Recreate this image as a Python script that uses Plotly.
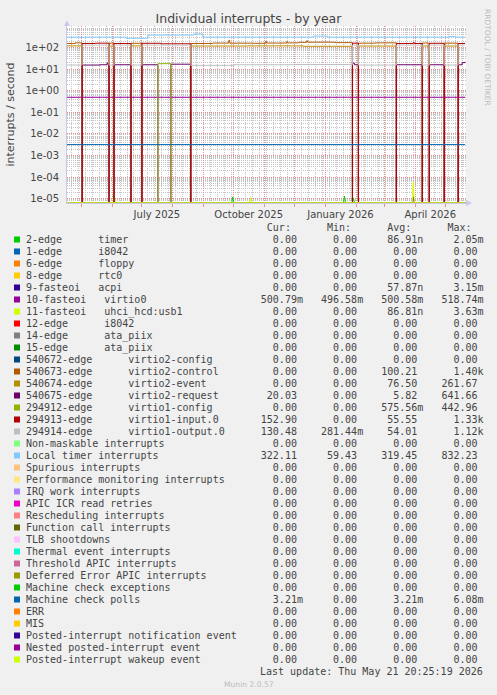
import pandas as pd
import plotly.graph_objects as go

# ---------------- data ----------------
START = "2025-04-16 20:25"
END = "2026-05-21 20:25"

legend_labels = [
    "2-edge      timer", "1-edge      i8042", "6-edge      floppy", "8-edge      rtc0",
    "9-fasteoi   acpi", "10-fasteoi   virtio0", "11-fasteoi   uhci_hcd:usb1",
    "12-edge      i8042", "14-edge      ata_piix", "15-edge      ata_piix",
    "540672-edge      virtio2-config", "540673-edge      virtio2-control",
    "540674-edge      virtio2-event", "540675-edge      virtio2-request",
    "294912-edge      virtio1-config", "294913-edge      virtio1-input.0",
    "294914-edge      virtio1-output.0", "Non-maskable interrupts",
    "Local timer interrupts", "Spurious interrupts",
    "Performance monitoring interrupts", "IRQ work interrupts",
    "APIC ICR read retries", "Rescheduling interrupts", "Function call interrupts",
    "TLB shootdowns", "Thermal event interrupts", "Threshold APIC interrupts",
    "Deferred Error APIC interrupts", "Machine check exceptions",
    "Machine check polls", "ERR", "MIS", "Posted-interrupt notification event",
    "Nested posted-interrupt event", "Posted-interrupt wakeup event",
]

series_colors = [
    "#00CC00", "#0066B3", "#FF8000", "#FFCC00", "#330099", "#990099", "#CCFF00",
    "#FF0000", "#808080", "#008F00", "#00487D", "#B35A00", "#B38F00", "#6B006B",
    "#8FB300", "#B30000", "#BEBEBE", "#80FF80", "#80C9FF", "#FFC080", "#FFE680",
    "#AA80FF", "#EE00CC", "#FF8080", "#666600", "#FFBFFF", "#00FFCC", "#CC6699",
    "#999900", "#00CC00", "#0066B3", "#FF8000", "#FFCC00", "#330099", "#990099",
    "#CCFF00",
]

cur_vals = ["0.00", "0.00", "0.00", "0.00", "0.00", "500.79m", "0.00", "0.00", "0.00", "0.00",
            "0.00", "0.00", "0.00", "20.03", "0.00", "152.90", "130.48", "0.00", "322.11",
            "0.00", "0.00", "0.00", "0.00", "0.00", "0.00", "0.00", "0.00", "0.00", "0.00",
            "0.00", "3.21m", "0.00", "0.00", "0.00", "0.00", "0.00"]
min_vals = ["0.00", "0.00", "0.00", "0.00", "0.00", "496.58m", "0.00", "0.00", "0.00", "0.00",
            "0.00", "0.00", "0.00", "0.00", "0.00", "0.00", "281.44m", "0.00", "59.43",
            "0.00", "0.00", "0.00", "0.00", "0.00", "0.00", "0.00", "0.00", "0.00", "0.00",
            "0.00", "0.00", "0.00", "0.00", "0.00", "0.00", "0.00"]
avg_vals = ["86.91n", "0.00", "0.00", "0.00", "57.87n", "500.58m", "86.81n", "0.00", "0.00",
            "0.00", "0.00", "100.21", "76.50", "5.82", "575.56m", "55.55", "54.01", "0.00",
            "319.45", "0.00", "0.00", "0.00", "0.00", "0.00", "0.00", "0.00", "0.00", "0.00",
            "0.00", "0.00", "3.21m", "0.00", "0.00", "0.00", "0.00", "0.00"]
max_vals = ["2.05m", "0.00", "0.00", "0.00", "3.15m", "518.74m", "3.63m", "0.00", "0.00",
            "0.00", "0.00", "1.40k", "261.67", "641.66", "442.96", "1.33k", "1.12k", "0.00",
            "832.23", "0.00", "0.00", "0.00", "0.00", "0.00", "0.00", "0.00", "0.00", "0.00",
            "0.00", "0.00", "6.08m", "0.00", "0.00", "0.00", "0.00", "0.00"]

# time series (daily consolidated, interrupts / second)
timer_x = ["2025-04-16", "2025-09-29", "2025-09-30", "2025-10-01", "2026-01-19", "2026-01-20",
           "2026-01-21", "2026-01-28", "2026-01-29", "2026-01-30", "2026-05-21"]
timer_y = [0, 0, 1.2e-5, 0, 0, 1.3e-5, 0, 0, 1.1e-5, 0, 0]

acpi_x = ["2025-04-16", "2026-03-29", "2026-03-30", "2026-03-31", "2026-05-21"]
acpi_y = [0, 0, 1.2e-5, 0, 0]

virtio0_x = ["2025-04-16", "2026-05-21"]
virtio0_y = [0.50, 0.50]

usb_x = ["2025-04-16", "2025-06-02", "2025-06-03", "2025-06-04", "2025-10-17", "2025-10-18",
         "2025-10-19", "2026-03-29", "2026-03-30", "2026-03-31", "2026-05-21"]
usb_y = [0, 0, 2.5e-5, 0, 0, 1.1e-5, 0, 0, 5.9e-5, 0, 0]

ctl_x = ["2025-04-16", "2025-04-25", "2025-05-02", "2025-05-29", "2025-06-03", "2025-06-20",
         "2025-07-01", "2025-08-19", "2025-09-10", "2025-09-26", "2025-09-27", "2025-10-20",
         "2025-11-02", "2025-11-03", "2025-11-23", "2025-11-24", "2025-12-05", "2025-12-13",
         "2025-12-14", "2026-01-10", "2026-01-28", "2026-02-03", "2026-02-20", "2026-03-13",
         "2026-04-08", "2026-04-15", "2026-04-30", "2026-05-14", "2026-05-21"]
ctl_y = [155, 165, 0, 160, 0, 158, 0, 155, 162, 215, 160, 158, 190, 162, 185, 165, 175, 205,
         178, 170, 0, 160, 165, 0, 162, 0, 160, 0, 0]

evt_x = ["2025-04-16", "2025-05-02", "2025-05-29", "2025-06-03", "2025-06-20", "2025-07-01",
         "2025-08-19", "2025-10-15", "2025-12-10", "2026-01-28", "2026-02-03", "2026-03-13",
         "2026-04-08", "2026-04-15", "2026-04-30", "2026-05-14", "2026-05-21"]
evt_y = [120, 0, 118, 0, 120, 0, 118, 120, 115, 0, 118, 0, 118, 0, 118, 0, 0]

req_x = ["2025-04-16", "2025-05-02", "2025-05-20", "2025-05-27", "2025-05-28", "2025-05-29",
         "2025-06-03", "2025-06-20", "2025-07-01", "2025-07-17", "2025-07-30", "2025-08-19",
         "2026-01-28", "2026-01-30", "2026-02-03", "2026-03-13", "2026-04-08", "2026-04-15",
         "2026-04-30", "2026-05-14", "2026-05-18", "2026-05-21"]
req_y = [0, 15.5, 16, 19, 16, 0, 16, 0, 16, 0, 17, 0, 19, 16, 0, 16, 0, 16, 0, 16, 20, 22]

cfg_x = ["2025-04-16", "2025-07-17", "2025-07-30", "2026-05-21"]
cfg_y = [0, 18, 0, 0]

inp_x = ["2025-04-16", "2025-05-02", "2025-05-15", "2025-05-29", "2025-06-03", "2025-06-20",
         "2025-07-01", "2025-07-20", "2025-08-19", "2026-01-28", "2026-02-03", "2026-03-13",
         "2026-03-30", "2026-03-31", "2026-04-08", "2026-04-15", "2026-04-30", "2026-05-14",
         "2026-05-21"]
inp_y = [0, 155, 160, 0, 155, 0, 158, 150, 0, 160, 0, 155, 170, 155, 0, 158, 0, 155, 153]

out_x = ["2025-04-16", "2025-05-02", "2025-05-29", "2025-06-03", "2025-06-20", "2025-07-01",
         "2025-08-19", "2025-10-01", "2025-12-01", "2026-01-28", "2026-02-03", "2026-03-13",
         "2026-04-08", "2026-04-15", "2026-04-30", "2026-05-14", "2026-05-21"]
out_y = [15.5, 130, 15.5, 130, 15.5, 130, 15, 16, 16.5, 130, 15.5, 130, 15.5, 130, 15.5, 130, 130]

loc_x = ["2025-04-16", "2025-05-01", "2025-05-04", "2025-06-15", "2025-07-07", "2025-08-22",
         "2025-08-31", "2025-12-20", "2026-01-03", "2026-05-05", "2026-05-12", "2026-05-21"]
loc_y = [305, 290, 305, 270, 380, 430, 305, 340, 305, 330, 305, 305]

mcp_x = ["2025-04-16", "2026-05-21"]
mcp_y = [0.00321, 0.00321]

series_data = {
    0: (timer_x, timer_y, "linear"),
    4: (acpi_x, acpi_y, "linear"),
    5: (virtio0_x, virtio0_y, "hv"),
    6: (usb_x, usb_y, "linear"),
    11: (ctl_x, ctl_y, "hv"),
    12: (evt_x, evt_y, "hv"),
    13: (req_x, req_y, "hv"),
    14: (cfg_x, cfg_y, "hv"),
    15: (inp_x, inp_y, "hv"),
    16: (out_x, out_y, "hv"),
    18: (loc_x, loc_y, "hv"),
    30: (mcp_x, mcp_y, "hv"),
}

x_label_pos = ["2025-07-16", "2025-10-16", "2026-01-16", "2026-04-16"]
x_label_text = ["July 2025", "October 2025", "January 2026", "April 2026"]
y_tick_vals = [1e2, 1e1, 1e0, 1e-1, 1e-2, 1e-3, 1e-4, 1e-5]
y_tick_text = ["1e+02", "1e+01", "1e+00", "1e-01", "1e-02", "1e-03", "1e-04", "1e-05"]

# ---------------- layout geometry ----------------
W, H = 497, 695
PL, PR, PT, PB = 67, 466, 26, 203
Y_RANGE = [-5.2, 3.0]
FLOOR = 10 ** (Y_RANGE[0] + 0.015)   # rrdtool draws zero at the bottom of a log graph


def fx(px):
    return (px - PL) / (PR - PL)


def fy(py):
    return (PB - py) / (PB - PT)


TEXT = "#444444"
MONO = "DejaVu Sans Mono"
SANS = "DejaVu Sans"

fig = go.Figure()

for i, (label, col) in enumerate(zip(legend_labels, series_colors)):
    if i in series_data:
        xs, ys, shape = series_data[i]
    else:
        xs, ys, shape = [START, END], [0, 0], "hv"
    yplot = [v if v > 0 else FLOOR for v in ys]
    fig.add_trace(go.Scatter(x=xs, y=yplot, mode="lines", name=label.strip(),
                             line=dict(color=col, width=1, shape=shape),
                             showlegend=False, hoverinfo="skip"))

# helper trace for the month grid axis
fig.add_trace(go.Scatter(x=[START, END], y=[None, None], xaxis="x2", mode="lines",
                         showlegend=False, hoverinfo="skip"))

month_starts = list(pd.date_range("2025-05-01", "2026-05-01", freq="MS"))
weeks = list(pd.date_range("2025-04-21", "2026-05-21", freq="W-MON"))
minor_y = [k * 10.0 ** n for n in range(-6, 3) for k in range(2, 10)]

GRID_GRAY = "#C4C4C4"
GRID_RED = "#E89090"
AXIS_COL = "#C8C8F0"

fig.update_layout(
    width=W, height=H,
    margin=dict(l=PL, r=W - PR, t=PT, b=H - PB, pad=0),
    paper_bgcolor="#F0F0F0", plot_bgcolor="#FFFFFF",
    title=dict(text="Individual interrupts - by year", x=0.5, xanchor="center",
               y=1 - 19 / H, yanchor="middle",
               font=dict(family=SANS, size=12.5, color=TEXT)),
    xaxis=dict(type="date", range=[START, END], tickmode="array",
               tickvals=x_label_pos, ticktext=x_label_text, showgrid=False,
               ticks="", ticklabelstandoff=2,
               tickfont=dict(family=SANS, size=10, color=TEXT),
               showline=True, linecolor=AXIS_COL, linewidth=1, zeroline=False,
               minor=dict(tickmode="array", tickvals=weeks, showgrid=True,
                          gridcolor=GRID_GRAY, griddash="1px,1px", gridwidth=1, ticks="")),
    xaxis2=dict(type="date", range=[START, END], overlaying="x", anchor="y", side="bottom",
                tickmode="array", tickvals=month_starts, showticklabels=False,
                showgrid=True, gridcolor=GRID_RED, griddash="1px,1px", gridwidth=1,
                ticks="outside", ticklen=3, tickcolor=GRID_RED, showline=False,
                zeroline=False),
    yaxis=dict(type="log", range=Y_RANGE, tickmode="array", tickvals=y_tick_vals,
               ticktext=y_tick_text, showgrid=True, gridcolor=GRID_RED,
               griddash="1px,1px", gridwidth=1, ticks="", ticklabelstandoff=5,
               tickfont=dict(family=SANS, size=10, color=TEXT),
               showline=True, linecolor=AXIS_COL, linewidth=1, zeroline=False,
               minor=dict(tickmode="array", tickvals=minor_y, showgrid=True,
                          gridcolor=GRID_GRAY, griddash="1px,1px", gridwidth=1, ticks="")),
)

annotations = []
shapes = []

# y axis title
annotations.append(dict(text="interrupts / second", x=fx(10), y=fy(114.5), xref="paper",
                        yref="paper", showarrow=False, textangle=-90,
                        font=dict(family=SANS, size=11, color=TEXT),
                        xanchor="center", yanchor="middle"))
# rrdtool credit
annotations.append(dict(text="RRDTOOL / TOBI OETIKER", x=fx(488), y=fy(57), xref="paper",
                        yref="paper", showarrow=False, textangle=90,
                        font=dict(family=SANS, size=7.5, color="#BBBBBB"),
                        xanchor="center", yanchor="middle"))


def split_unit(s):
    if s[-1].isalpha():
        return s[:-1], s[-1]
    return s, " "


def nb(s):
    return s.replace(" ", "\u00a0")


def row_y(i):
    return 239.5 + 12 * i


header = " " * 40 + "Cur:" + " " * 6 + "Min:" + " " * 6 + "Avg:" + " " * 6 + "Max:"
annotations.append(dict(text=nb(header), x=fx(26), y=fy(227.5), xref="paper", yref="paper",
                        showarrow=False, xanchor="left", yanchor="middle",
                        borderpad=0, borderwidth=0,
                        font=dict(family=MONO, size=10, color=TEXT)))

for i, label in enumerate(legend_labels):
    parts = [label.ljust(37)]
    for w, v in zip((8, 9, 9, 9), (cur_vals[i], min_vals[i], avg_vals[i], max_vals[i])):
        num, unit = split_unit(v)
        parts.append(num.rjust(w) + unit)
    annotations.append(dict(text=nb("".join(parts)), x=fx(26), y=fy(row_y(i)), xref="paper",
                            yref="paper", showarrow=False, xanchor="left", yanchor="middle",
                            borderpad=0, borderwidth=0,
                            font=dict(family=MONO, size=10, color=TEXT)))
    shapes.append(dict(type="rect", xref="paper", yref="paper",
                       x0=fx(14), x1=fx(20), y0=fy(row_y(i) + 3), y1=fy(row_y(i) - 3),
                       fillcolor=series_colors[i], line=dict(width=0)))

annotations.append(dict(text=nb("Last update: Thu May 21 20:25:19 2026"), x=fx(483),
                        y=fy(671.5), xref="paper", yref="paper", showarrow=False,
                        xanchor="right", yanchor="middle", borderpad=0, borderwidth=0,
                        font=dict(family=MONO, size=10, color=TEXT)))
annotations.append(dict(text="Munin 2.0.57", x=fx(248.5), y=fy(684), xref="paper",
                        yref="paper", showarrow=False, xanchor="center", yanchor="middle",
                        font=dict(family=SANS, size=7.6, color="#BBBBBB")))

# axis arrows
shapes.append(dict(type="path", xref="paper", yref="paper",
                   path=f"M {fx(64)} {fy(26)} L {fx(70)} {fy(26)} L {fx(67)} {fy(20.5)} Z",
                   fillcolor=AXIS_COL, line=dict(width=0)))
shapes.append(dict(type="path", xref="paper", yref="paper",
                   path=f"M {fx(466)} {fy(200)} L {fx(466)} {fy(206)} L {fx(472)} {fy(203)} Z",
                   fillcolor=AXIS_COL, line=dict(width=0)))

fig.update_layout(annotations=annotations, shapes=shapes)

fig.write_html("out.html", config={"displayModeBar": False},
               post_script="document.body.style.margin='0';")
